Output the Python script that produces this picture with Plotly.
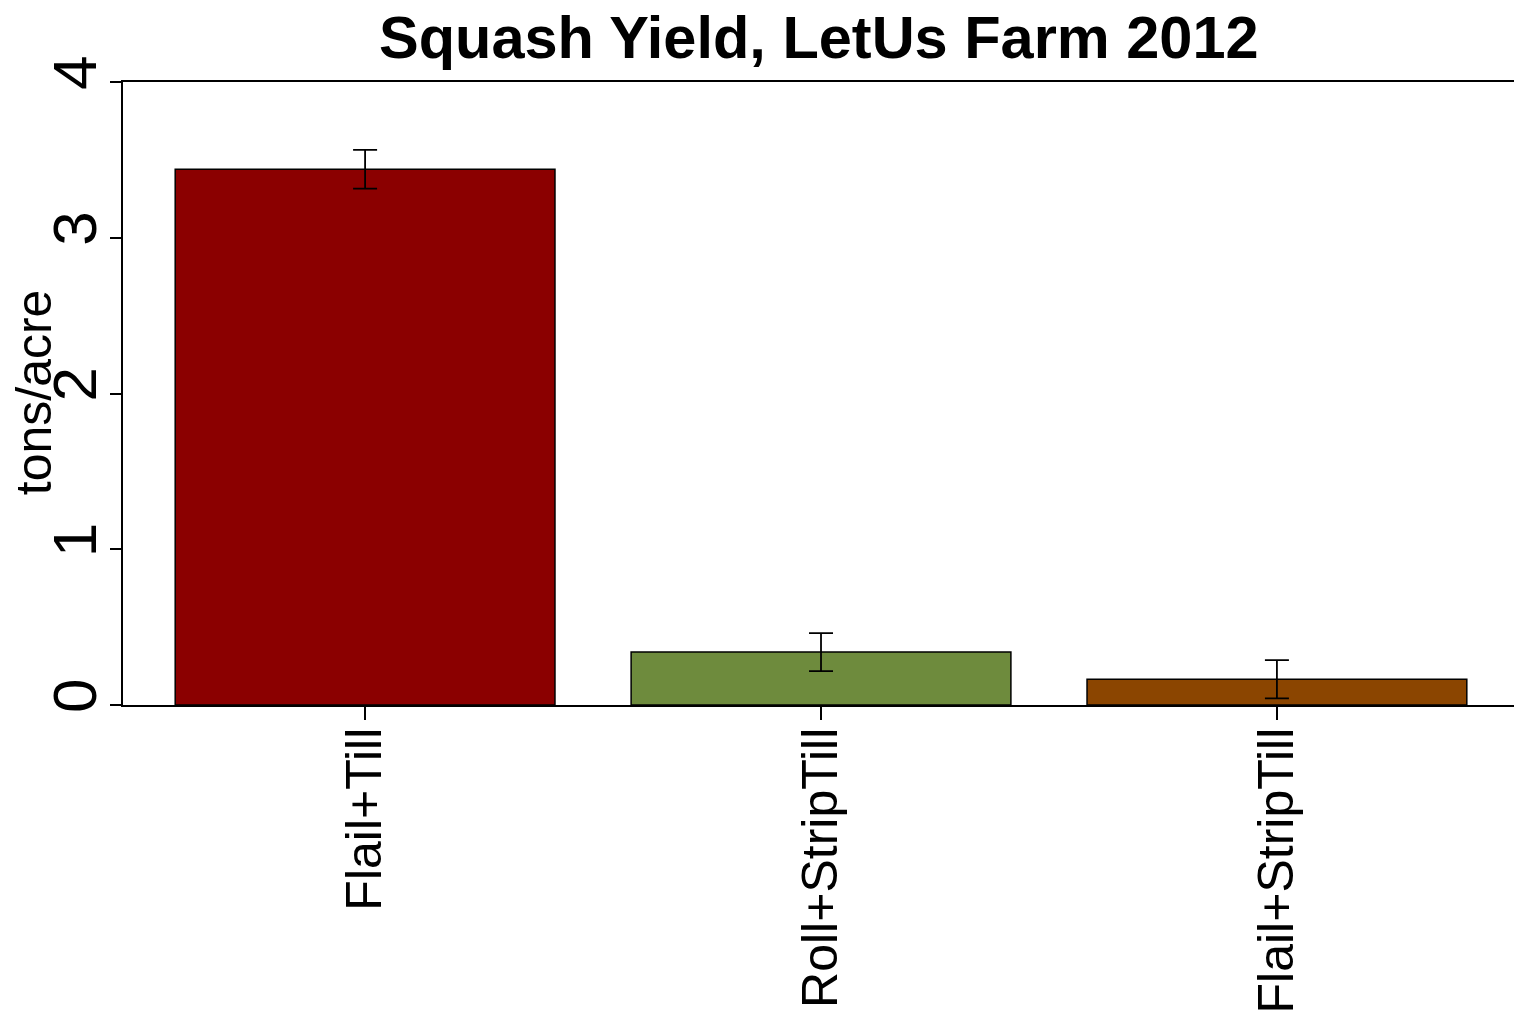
import plotly.graph_objects as go

categories = ["Flail+Till", "Roll+StripTill", "Flail+StripTill"]
yield_tons = [3.44, 0.34, 0.165]
yield_err = [0.124, 0.122, 0.123]
bar_colors = ["#8B0000", "#6E8B3D", "#8B4500"]
y_ticks = [0, 1, 2, 3, 4]

FONT = "Liberation Sans, Arial, sans-serif"

fig = go.Figure()
fig.add_trace(go.Bar(
    x=categories,
    y=yield_tons,
    width=0.833,
    marker=dict(color=bar_colors, line=dict(color="black", width=1.5)),
    error_y=dict(type="data", array=yield_err, visible=True,
                 color="black", thickness=1.8, width=12),
    showlegend=False,
))

fig.update_layout(
    width=1514, height=1017,
    margin=dict(l=123, r=0, t=82, b=312),
    paper_bgcolor="white", plot_bgcolor="white",
    font=dict(family=FONT, color="black"),
    xaxis=dict(
        type="category", range=[-0.531, 2.52], automargin=False,
        showline=True, mirror=True, linecolor="black", linewidth=1.5,
        ticks="outside", ticklen=13, tickwidth=1.5, tickcolor="black",
        tickangle=-90, tickfont=dict(size=50, family=FONT, color="black"),
        ticklabelstandoff=-12,
        showgrid=False, zeroline=False,
    ),
    yaxis=dict(
        range=[0, 4], tickvals=y_ticks, automargin=False,
        showline=True, linecolor="black", linewidth=1.5,
        ticks="outside", ticklen=11, tickwidth=1.5, tickcolor="black",
        tickangle=-90, tickfont=dict(size=62, family=FONT, color="black"),
        ticklabelstandoff=-11,
        showgrid=False, zeroline=False,
    ),
    annotations=[
        dict(text="<b>Squash Yield, LetUs Farm 2012</b>", xref="paper", yref="paper",
             x=0.5, y=1, yshift=9, xanchor="center", yanchor="bottom", showarrow=False,
             font=dict(size=59.5, family=FONT, color="black")),
        dict(text="tons/acre", xref="paper", yref="paper",
             x=0, xshift=-89, y=0.502, xanchor="center", yanchor="middle",
             textangle=-90, showarrow=False,
             font=dict(size=50, family=FONT, color="black")),
    ],
)

fig.write_html(
    "out.html",
    config={"displayModeBar": False},
    post_script="document.body.style.margin='0';document.body.style.overflow='hidden';",
)
